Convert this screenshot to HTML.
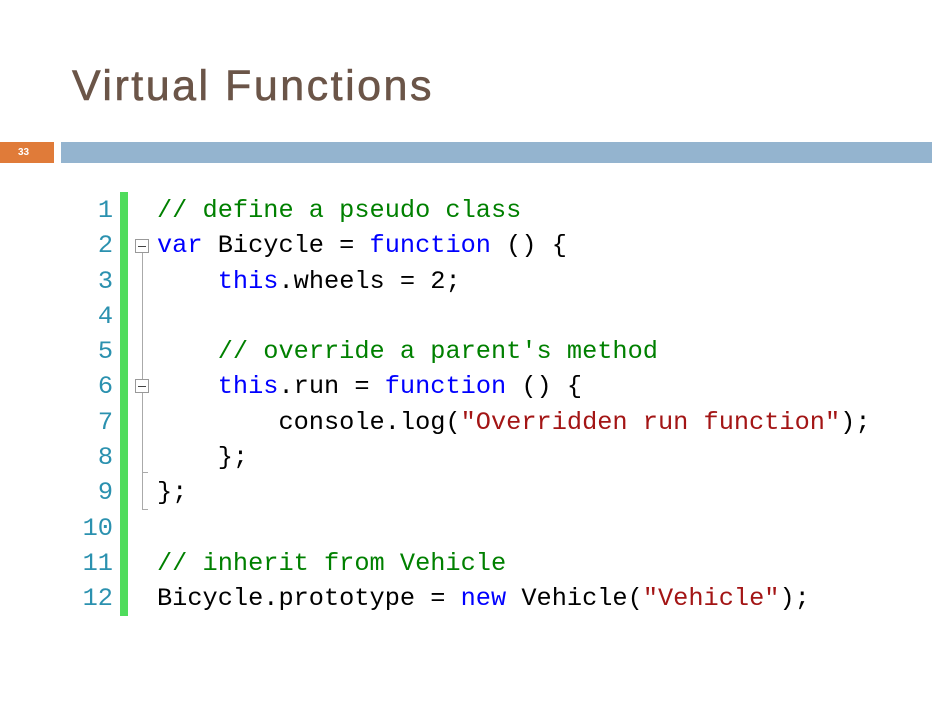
<!DOCTYPE html>
<html><head><style>
body{margin:0;width:932px;height:720px;background:#fff;position:relative;overflow:hidden;font-family:"Liberation Sans",sans-serif}
.t{position:absolute;left:72px;top:62px;font-size:43px;color:#6b5548;letter-spacing:2.5px;-webkit-text-stroke:0.6px #6b5548}
.o{position:absolute;left:0;top:142px;width:54px;height:21px;background:#e07b39;color:#fff;font-size:10px;font-weight:bold;line-height:21px;padding-left:18px;box-sizing:border-box}
.b{position:absolute;left:61px;top:142px;width:871px;height:21px;background:#94b4cf}
.g{position:absolute;left:120px;top:192px;width:8px;height:424px;background:#4fdc5c}
pre{position:absolute;margin:0;top:193px;font-family:"Liberation Mono",monospace;font-size:25.3px;line-height:35.3px}
.n{left:60px;width:53px;text-align:right;color:#2b91af}
.c{left:157px;color:#000}
.k{color:#0000ff}.m{color:#008000}.s{color:#a31515}
.box{position:absolute;width:14px;height:14px;border:1px solid #999;box-sizing:border-box;background:#fff}
.box:after{content:"";position:absolute;left:2px;top:6px;width:8px;height:1px;background:#444}
.v{position:absolute;width:1px;background:#aaa}
.h{position:absolute;height:1px;width:6px;background:#aaa}
</style></head><body>
<div class="t">Virtual Functions</div>
<div class="o">33</div><div class="b"></div>
<div class="g"></div>
<pre class="n">1
2
3
4
5
6
7
8
9
10
11
12</pre>
<div class="box" style="left:135px;top:239px"></div>
<div class="v" style="left:142px;top:253px;height:256px"></div>
<div class="h" style="left:142px;top:509px"></div>
<div class="box" style="left:135px;top:379px"></div>
<div class="v" style="left:142px;top:393px;height:79px"></div>
<div class="h" style="left:142px;top:472px"></div>
<pre class="c"><span class="m">// define a pseudo class</span>
<span class="k">var</span> Bicycle = <span class="k">function</span> () {
    <span class="k">this</span>.wheels = 2;

    <span class="m">// override a parent's method</span>
    <span class="k">this</span>.run = <span class="k">function</span> () {
        console.log(<span class="s">"Overridden run function"</span>);
    };
};

<span class="m">// inherit from Vehicle</span>
Bicycle.prototype = <span class="k">new</span> Vehicle(<span class="s">"Vehicle"</span>);</pre>
</body></html>
